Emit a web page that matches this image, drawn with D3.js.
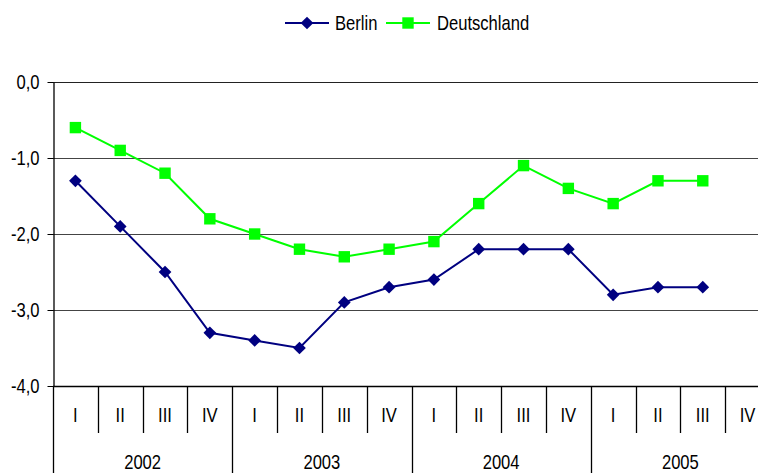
<!DOCTYPE html>
<html>
<head>
<meta charset="utf-8">
<script src="https://cdn.jsdelivr.net/npm/d3@7"></script>
<style>
  body { margin: 0; background: #fff; }
  svg { display: block; overflow: hidden; }
  text { font-family: Arial, "Liberation Sans", sans-serif; fill: #000; }
</style>
</head>
<body>
<div id="chart"></div>
<script>
const years = ["2002", "2003", "2004", "2005"];
const quarters = ["I", "II", "III", "IV"];
const berlin = [-1.3, -1.9, -2.5, -3.3, -3.4, -3.5, -2.9, -2.7, -2.6, -2.2, -2.2, -2.2, -2.8, -2.7, -2.7];
const deutschland = [-0.6, -0.9, -1.2, -1.8, -2.0, -2.2, -2.3, -2.2, -2.1, -1.6, -1.1, -1.4, -1.6, -1.3, -1.3];
const yTicks = [0, -1, -2, -3, -4];

const W = 758, H = 473;
const sx = 0.83; // glyphs in the picture are narrow
const fs = 20;

const categories = years.flatMap(y => quarters.map(q => `${y}-${q}`));

const svg = d3.select("#chart").append("svg")
  .attr("width", W)
  .attr("height", H);

const x = d3.scaleBand()
  .domain(categories)
  .range([53, 770])
  .padding(0);

const y = d3.scaleLinear()
  .domain([-4, 0])
  .range([386, 82]);

const cx = d => x(d) + x.bandwidth() / 2;

// gridlines
svg.append("g")
  .selectAll("line")
  .data(yTicks.filter(t => t > -4))
  .enter()
  .append("line")
  .attr("x1", 53).attr("x2", W)
  .attr("y1", d => Math.round(y(d)) + 0.5)
  .attr("y2", d => Math.round(y(d)) + 0.5)
  .attr("stroke", d => d === 0 ? "#222" : "#444")
  .attr("stroke-width", 1);

// y axis
const yAxis = svg.append("g")
  .attr("transform", "translate(53.5,0)")
  .call(d3.axisLeft(y)
    .tickValues(yTicks)
    .tickSize(6)
    .tickSizeOuter(0)
    .tickFormat(d => d.toFixed(1).replace(".", ",")));
yAxis.select(".domain").attr("stroke", "#000").attr("stroke-width", 1.3);
yAxis.selectAll(".tick line").attr("stroke", "#000");
yAxis.selectAll(".tick text")
  .attr("x", -14 / sx)
  .attr("dy", "0.34em")
  .attr("transform", `scale(${sx},1)`)
  .style("font-size", fs + "px")
  .style("font-family", "Arial, 'Liberation Sans', sans-serif");

// x axis base line
svg.append("line")
  .attr("x1", 53).attr("x2", W)
  .attr("y1", 386.5).attr("y2", 386.5)
  .attr("stroke", "#000").attr("stroke-width", 1.5);

// quarter separators
svg.append("g")
  .selectAll("line")
  .data(categories.slice(1).filter((d, i) => (i + 1) % 4 !== 0))
  .enter()
  .append("line")
  .attr("x1", d => Math.round(x(d)) + 0.5)
  .attr("x2", d => Math.round(x(d)) + 0.5)
  .attr("y1", 386).attr("y2", 433)
  .attr("stroke", "#000").attr("stroke-width", 1.3);

// year separators
svg.append("g")
  .selectAll("line")
  .data(years.concat(["end"]))
  .enter()
  .append("line")
  .attr("x1", (d, i) => Math.round(i < 4 ? x(`${d}-I`) : x.range()[1]) + 0.5)
  .attr("x2", (d, i) => Math.round(i < 4 ? x(`${d}-I`) : x.range()[1]) + 0.5)
  .attr("y1", 386).attr("y2", H)
  .attr("stroke", "#000").attr("stroke-width", 1.3);

// quarter labels
svg.append("g")
  .selectAll("text")
  .data(categories)
  .enter()
  .append("text")
  .attr("transform", d => `translate(${cx(d)},422) scale(${sx},1)`)
  .attr("text-anchor", "middle")
  .style("font-size", fs + "px")
  .text(d => d.split("-")[1]);

// year labels
svg.append("g")
  .selectAll("text")
  .data(years)
  .enter()
  .append("text")
  .attr("transform", d => `translate(${x(`${d}-I`) + 2 * x.bandwidth()},469) scale(${sx},1)`)
  .attr("text-anchor", "middle")
  .style("font-size", fs + "px")
  .text(d => d);

// series
const series = [
  {name: "Berlin", values: berlin, color: "#000080", marker: "diamond"},
  {name: "Deutschland", values: deutschland, color: "#00ff00", marker: "square"}
];

const line = d3.line()
  .x((d, i) => cx(categories[i]))
  .y(d => y(d));

const symbolFor = m => m === "diamond"
  ? d3.symbol().type(d3.symbolSquare).size(81)
  : d3.symbol().type(d3.symbolSquare).size(130);

series.forEach(s => {
  svg.append("path")
    .datum(s.values)
    .attr("fill", "none")
    .attr("stroke", s.color)
    .attr("stroke-width", 2)
    .attr("d", line);

  svg.append("g")
    .selectAll("path")
    .data(s.values)
    .enter()
    .append("path")
    .attr("d", symbolFor(s.marker))
    .attr("transform", (d, i) => `translate(${cx(categories[i])},${y(d)})` + (s.marker === "diamond" ? " rotate(45)" : ""))
    .attr("fill", s.color);
});

// legend
const legend = svg.append("g");
const legendItems = [
  {name: "Berlin", color: "#000080", marker: "diamond", x0: 285, tx: 335},
  {name: "Deutschland", color: "#00ff00", marker: "square", x0: 386, tx: 437}
];
legendItems.forEach(it => {
  legend.append("line")
    .attr("x1", it.x0).attr("x2", it.x0 + 44)
    .attr("y1", 23).attr("y2", 23)
    .attr("stroke", it.color).attr("stroke-width", 2);
  legend.append("path")
    .attr("d", symbolFor(it.marker))
    .attr("transform", `translate(${it.x0 + 22},23)` + (it.marker === "diamond" ? " rotate(45)" : ""))
    .attr("fill", it.color);
  legend.append("text")
    .attr("transform", `translate(${it.tx},30) scale(${sx},1)`)
    .style("font-size", fs + "px")
    .text(it.name);
});
</script>
</body>
</html>
